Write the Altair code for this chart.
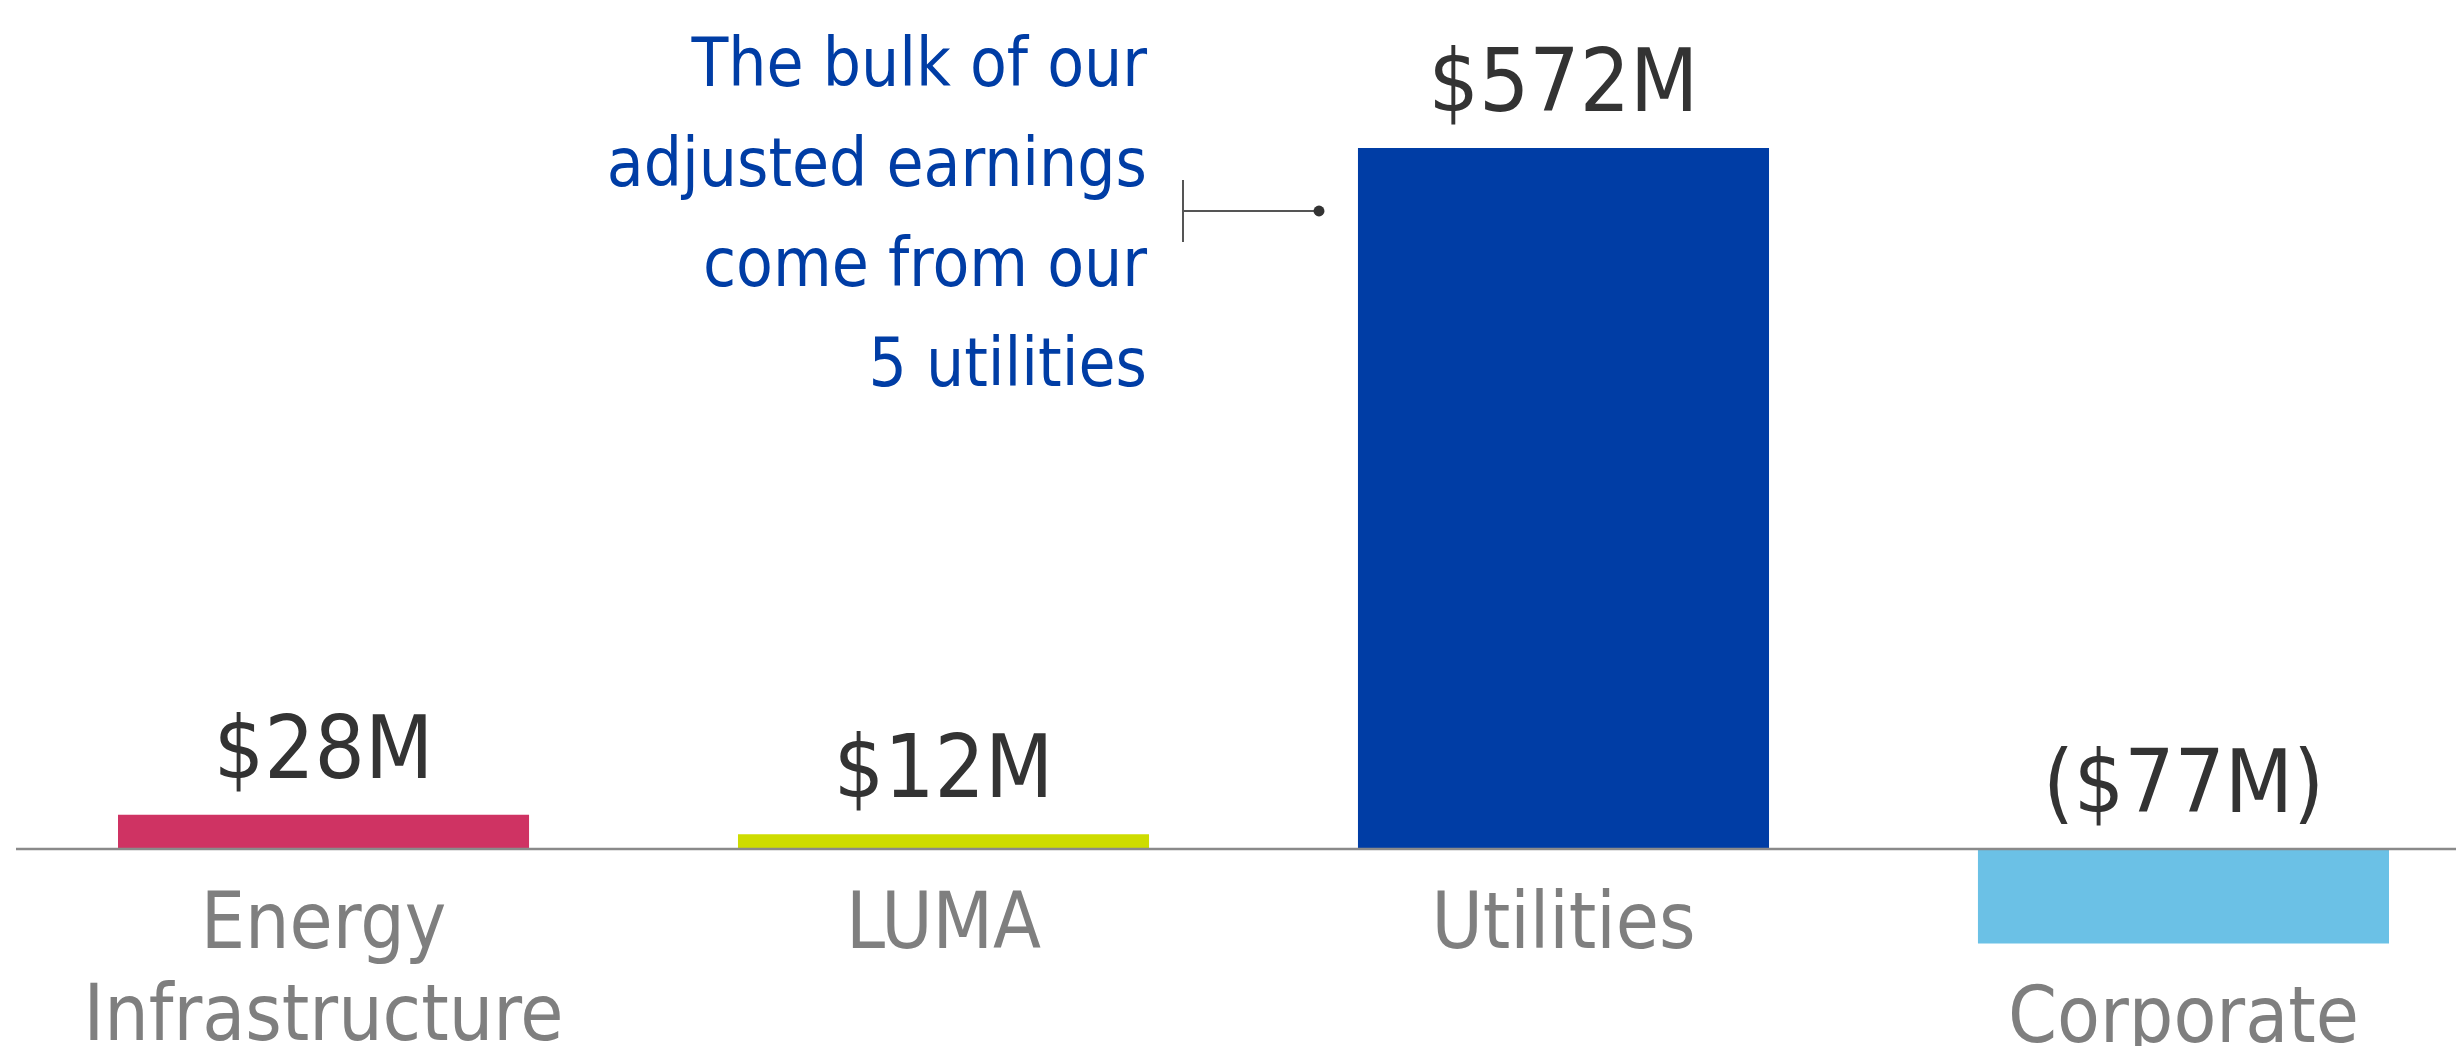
import altair as alt
import pandas as pd

categories = ["Energy Infrastructure", "LUMA", "Utilities", "Corporate"]
values = [28, 12, 572, -77]
value_labels = ["$28M", "$12M", "$572M", "($77M)"]
category_lines = [["Energy", "Infrastructure"], ["LUMA"], ["Utilities"], ["Corporate"]]
colors = ["#CF3363", "#CEDC00", "#003DA5", "#6BC1E6"]
annotation_lines = ["The bulk of our", "adjusted earnings", "come from our", "5 utilities"]

df = pd.DataFrame({
    "category": categories,
    "value": values,
    "vlabel": value_labels,
    "clabel": category_lines,
    "color": colors,
})

W, H = 2448, 1038
FONT = "DejaVu Sans Condensed, DejaVu Sans, sans-serif"

x = alt.X("category:N", sort=categories, axis=None,
          scale=alt.Scale(range=[110, 2381], paddingInner=0.337, paddingOuter=0))
yscale = alt.Scale(domain=[-160.7, 686.2], nice=False, zero=False)

base = alt.Chart(df).transform_calculate(
    top="max(datum.value, 0)", bottom="min(datum.value, 0)"
)

bars = base.mark_bar().encode(
    x=x,
    y=alt.Y("value:Q", scale=yscale, axis=None),
    y2=alt.datum(0),
    color=alt.Color("color:N", scale=None, legend=None),
)

zero = alt.Chart(pd.DataFrame({"v": [0]})).mark_rule(color="#8a8a8a", strokeWidth=2.5).encode(
    x=alt.value(8), x2=alt.value(W), y=alt.Y("v:Q", scale=yscale, axis=None)
)

vlabels = base.mark_text(font=FONT, fontSize=88, fontWeight="normal", color="#333333",
                         baseline="alphabetic", align="center", dy=-37).encode(
    x=x, y=alt.Y("top:Q", scale=yscale, axis=None), text="vlabel:N"
)

clabels = base.mark_text(font=FONT, fontSize=78, fontWeight="normal", color="#7f7f7f",
                         baseline="alphabetic", align="center", dy=99, lineHeight=92).encode(
    x=x, y=alt.Y("bottom:Q", scale=yscale, axis=None), text="clabel"
)

ann = alt.Chart(pd.DataFrame({"t": [annotation_lines]})).mark_text(
    font=FONT, fontSize=67, color="#003DA5", align="right", baseline="alphabetic",
    lineHeight=100
).encode(x=alt.value(1139), y=alt.value(78), text="t")

conn_v = alt.Chart(pd.DataFrame({"a": [0]})).mark_rule(color="#555555", strokeWidth=2).encode(
    x=alt.value(1175), y=alt.value(172), y2=alt.value(234)
)
conn_h = alt.Chart(pd.DataFrame({"a": [0]})).mark_rule(color="#555555", strokeWidth=2).encode(
    x=alt.value(1175), x2=alt.value(1311), y=alt.value(203)
)
dot = alt.Chart(pd.DataFrame({"a": [0]})).mark_point(filled=True, color="#333333", size=120, opacity=1).encode(
    x=alt.value(1311), y=alt.value(203)
)

chart = alt.layer(bars, zero, vlabels, clabels, ann, conn_v, conn_h, dot).properties(
    width=W, height=H, padding=0, autosize=alt.AutoSizeParams(type="none")
).configure_view(stroke=None)

chart.save("out.html", embed_options={"renderer": "svg", "actions": False})
